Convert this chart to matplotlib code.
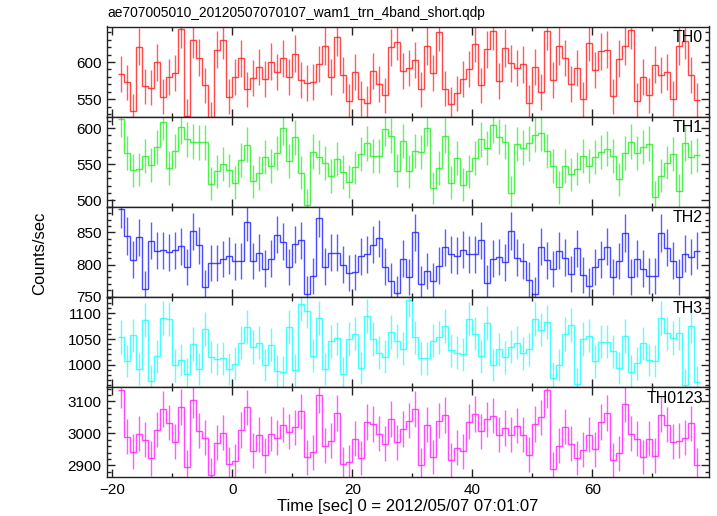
import numpy as np
import matplotlib
matplotlib.use("Agg")
import matplotlib.pyplot as plt
from matplotlib.ticker import MultipleLocator

plt.rcParams['font.family'] = ['Liberation Sans', 'DejaVu Sans']

# time bins: 1-s bins, centres -18.5 ... 77.5
bin_start = -19.0
bin_width = 1.0

th0 = [583.5, 572.7, 533.9, 620.6, 567.4, 565.6, 599.6, 553.5, 579.4, 585.3,
       643.8, 528.0, 630.0, 606.0, 568.7, 524.0, 616.5, 629.5, 553.5, 580.3,
       605.0, 563.4, 578.1, 592.9, 576.8, 600.4, 586.6, 605.0, 579.4, 611.2,
       575.9, 571.9, 573.2, 597.3, 621.4, 579.9, 633.0, 582.1, 547.3, 586.1,
       550.8, 545.0, 587.5, 570.1, 555.3, 619.7, 627.3, 588.4, 591.5, 602.7,
       563.4, 621.4, 585.3, 640.7, 564.3, 543.3, 558.0, 577.7, 590.2, 624.6,
       568.7, 617.0, 641.6, 575.0, 618.8, 598.2, 591.5, 596.9, 545.5, 593.7,
       559.8, 642.0, 576.3, 621.4, 605.4, 570.5, 592.4, 550.0, 626.0, 589.3,
       614.3, 616.5, 554.0, 604.5, 621.4, 643.0, 548.2, 580.3, 555.3, 596.4,
       582.6, 586.1, 550.4, 621.4, 628.6, 583.0, 549.0]

th1 = [612.6, 565.6, 541.4, 542.8, 561.0, 548.9, 574.0, 608.4, 544.7, 567.9,
       602.3, 584.7, 581.4, 580.5, 580.5, 522.8, 540.0, 549.8, 541.4, 524.2,
       555.4, 577.2, 526.1, 537.7, 560.0, 547.0, 565.1, 600.9, 554.9, 587.4,
       538.2, 493.0, 567.5, 559.6, 551.2, 533.5, 557.7, 539.1, 525.2, 545.6,
       564.7, 579.1, 561.0, 561.0, 599.1, 589.8, 541.0, 582.3, 540.0, 568.4,
       566.5, 600.0, 516.8, 544.7, 589.8, 524.2, 558.6, 521.4, 540.0, 558.6,
       584.7, 572.1, 604.6, 588.4, 581.4, 510.3, 577.7, 573.0, 579.1, 591.2,
       593.0, 568.4, 547.8, 517.7, 547.8, 535.9, 543.6, 561.3, 547.8, 559.5,
       566.9, 571.6, 561.0, 528.9, 565.1, 581.4, 565.6, 573.5, 578.6, 503.8,
       534.0, 552.1, 563.7, 513.0, 579.1, 560.5, 562.3]

th2 = [886.5, 844.3, 807.8, 842.2, 762.5, 837.0, 821.9, 822.4, 819.3, 822.4,
       828.6, 796.4, 851.6, 830.2, 764.6, 802.1, 802.1, 808.9, 814.1, 805.2,
       805.7, 865.6, 805.7, 818.8, 793.8, 809.4, 846.4, 835.9, 795.8, 831.8,
       837.5, 755.0, 781.8, 871.9, 796.9, 818.8, 818.8, 800.0, 787.5, 789.1,
       813.0, 816.1, 831.0, 841.1, 796.9, 775.0, 755.2, 809.4, 780.7, 850.0,
       770.3, 790.1, 774.5, 798.4, 827.1, 816.1, 814.1, 823.4, 816.1, 816.1,
       837.5, 771.4, 809.4, 812.0, 803.6, 852.6, 810.9, 805.7, 776.6, 753.6,
       827.6, 806.8, 792.7, 821.4, 810.9, 784.9, 825.5, 783.9, 767.2, 796.4,
       808.3, 827.6, 780.7, 805.7, 849.5, 780.2, 809.4, 793.8, 782.8, 782.8,
       849.5, 826.0, 806.3, 781.3, 817.2, 812.0, 821.9]

th3 = [1053.9, 1007.1, 1057.1, 991.5, 1087.0, 968.1, 1016.2, 1090.9, 1089.0, 998.6,
       1009.0, 981.7, 1040.2, 991.5, 1069.5, 1014.9, 1011.0, 1012.9, 991.5, 1001.9,
       1042.8, 1074.0, 1034.4, 1042.8, 999.3, 1038.9, 987.6, 986.3, 1074.0, 989.5,
       1118.2, 1105.2, 1017.5, 1090.9, 991.5, 1045.4, 1051.3, 983.0, 1050.0, 1060.4,
       994.1, 1095.5, 1050.0, 1023.3, 1015.5, 1063.6, 1046.1, 1031.1, 1126.6, 1053.2,
       1012.9, 1012.9, 1046.7, 1053.2, 1074.7, 1028.5, 1023.3, 1020.1, 1089.6, 1060.4,
       1016.8, 1081.8, 999.9, 1030.5, 1014.2, 1035.0, 1042.8, 1022.0, 1030.5, 1089.6,
       1068.2, 1082.5, 974.0, 999.9, 1059.7, 1077.9, 962.2, 1050.0, 1056.5, 1006.4,
       1044.8, 1044.8, 1025.9, 993.4, 1055.8, 986.9, 1002.5, 1041.5, 1009.0, 1007.1,
       1090.9, 1061.0, 1051.9, 1061.0, 960.3, 1075.3, 967.4]

th0123 = [3135.0, 2990.3, 2942.7, 2998.6, 2979.9, 2921.9, 3012.0, 3076.2, 3033.7, 2974.7,
          3083.4, 2896.1, 3104.1, 3008.9, 2986.1, 2871.2, 2970.6, 3001.7, 2903.3, 2913.7,
          3011.0, 3081.4, 2945.8, 2996.5, 2931.3, 2998.6, 2986.1, 3027.5, 3004.8, 3020.0,
          3068.9, 2925.0, 2940.6, 3119.7, 2961.3, 2977.8, 3063.8, 2904.3, 2911.6, 2983.0,
          2924.0, 3035.8, 3029.6, 2998.6, 2968.5, 3045.1, 2972.7, 3014.1, 3040.0, 3076.2,
          2900.2, 3027.5, 2926.1, 3040.0, 3057.6, 2915.7, 2955.1, 2944.7, 3036.9, 3060.7,
          3006.8, 3044.1, 3055.5, 2996.5, 3017.2, 2996.5, 3024.4, 2996.5, 2933.3, 3029.6,
          3050.3, 3136.2, 2889.9, 2961.3, 3021.3, 2967.5, 2924.0, 2948.9, 2996.5, 2950.9,
          3035.8, 3063.8, 2915.7, 2938.5, 3091.7, 2998.6, 2983.0, 2926.1, 2983.0, 2930.2,
          3058.6, 3027.5, 2974.7, 2977.8, 2986.1, 3031.7, 2902.3]

series = [th0, th1, th2, th3, th0123]
names = ["TH0", "TH1", "TH2", "TH3", "TH0123"]
colors = ["#ff1a1a", "#22ee22", "#1a1aff", "#1affff", "#ff1aff"]
ylims = [(526.8, 647.6), (490.7, 616.2), (750.0, 890.0), (957.0, 1132.0), (2864.0, 3145.6)]
ymajor = [50, 50, 50, 50, 100]
yminor = [10, 10, 10, 10, 20]

title = "ae707005010_20120507070107_wam1_trn_4band_short.qdp"
xlabel = "Time [sec] 0 = 2012/05/07 07:01:07"
ylabel = "Counts/sec"

W, H = 717, 516
fig = plt.figure(figsize=(W / 100, H / 100), dpi=100)
left, right = 107 / W, 709 / W
top, bottom = 1 - 26.5 / H, 1 - 477 / H
gs = fig.add_gridspec(5, 1, left=left, right=right, top=top, bottom=bottom, hspace=0)

FS = 11
for k, (vals, name, col) in enumerate(zip(series, names, colors)):
    ax = fig.add_subplot(gs[k])
    v = np.asarray(vals)
    n = len(v)
    edges = bin_start + bin_width * np.arange(n + 1)
    centers = edges[:-1] + bin_width / 2
    err = np.sqrt(v / bin_width)
    ax.stairs(v, edges, baseline=None, color=col, lw=1.0, alpha=0.8)
    ax.errorbar(centers, v, yerr=err, fmt='none', ecolor=col, elinewidth=1.0,
                capsize=0, alpha=0.7)
    ax.set_xlim(-20.88, 79.45)
    ax.set_ylim(*ylims[k])
    ax.xaxis.set_major_locator(MultipleLocator(20))
    ax.xaxis.set_minor_locator(MultipleLocator(10))
    ax.yaxis.set_major_locator(MultipleLocator(ymajor[k]))
    ax.yaxis.set_minor_locator(MultipleLocator(yminor[k]))
    ax.tick_params(which='both', direction='in', top=True, right=True, labelsize=FS,
                   width=1.0, color='#222222')
    ax.tick_params(which='major', length=6)
    ax.tick_params(which='minor', length=3)
    ax.tick_params(axis='y', pad=4)
    for s in ax.spines.values():
        s.set_linewidth(1.0)
        s.set_color('#222222')
    if k < 4:
        ax.tick_params(axis='x', labelbottom=False)
    else:
        ax.tick_params(axis='x', pad=4)
        ax.set_xlabel(xlabel, fontsize=12, labelpad=2)
    ax.text(0.99, 0.875, name, transform=ax.transAxes, ha='right', va='center',
            fontsize=FS + 0.5, color='black')

fig.text(left, 1 - 17 / H, title, ha='left', va='baseline', fontsize=9.9)
fig.text(40 / W, 1 - 253 / H, ylabel, rotation=90, ha='center', va='center', fontsize=12)

fig.savefig("out.png", dpi=100)
